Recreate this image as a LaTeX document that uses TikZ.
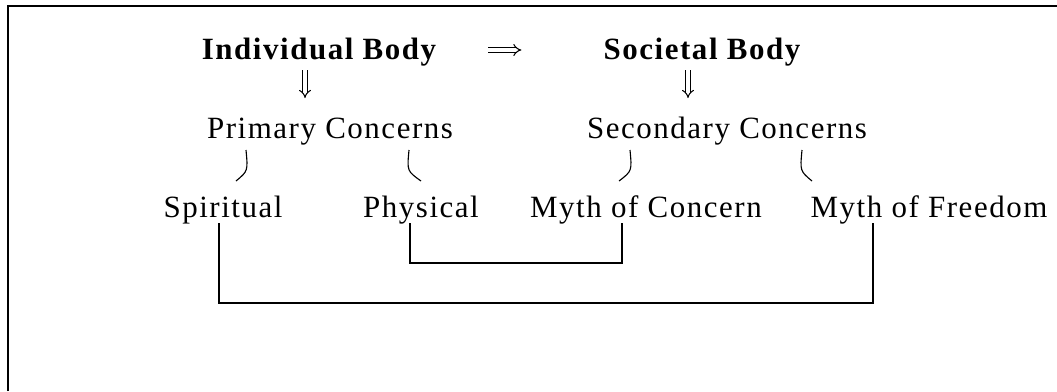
\documentclass[tikz,border=0pt]{standalone}
\usepackage{fontspec}
\setmainfont{Liberation Serif}[LetterSpace=5]
\usetikzlibrary{calc,arrows.meta}
\tikzset{
  label text/.style={anchor=base, inner sep=0pt, font=\fontsize{22}{26}\selectfont},
  head text/.style={label text, font=\fontsize{22}{26}\selectfont\bfseries},
  link/.style={line width=1pt},
  brace/.style={line width=0.8pt},
  down/.style={double, double distance=2.2pt, line width=0.75pt, -{Implies}},
}
\begin{document}
\begin{tikzpicture}[x={(0.025cm,0cm)}, y={(0cm,-0.025cm)}]
  \useasboundingbox (0,0) rectangle (1057,391);
  % frame
  \draw[line width=1.4pt] (8,391) -- (8,6) -- (1057,6);

  % top row
  \node[head text] (ib) at (319,59) {Individual Body};
  \node[head text] (sb) at (702,59) {Societal Body};
  \draw[down] ($(ib.base east)+(52,-9)$) -- ($(sb.base west)+(-82,-9)$);
  \draw[down] (305,70) -- (305,98);
  \draw[down] (688,70) -- (688,98);

  % concerns
  \node[label text] (pc) at (330,138) {Primary Concerns};
  \node[label text] (sc) at (727,138) {Secondary Concerns};
  \draw[brace] (246,150) .. controls (248,171) .. (236,181);
  \draw[brace] (409,150) .. controls (407,171) .. (421,181);
  \draw[brace] (630,150) .. controls (632,171) .. (619,181);
  \draw[brace] (802,150) .. controls (800,171) .. (812,181);

  % bottom row
  \node[label text] (sp) at (223,217) {Spiritual};
  \node[label text] (ph) at (421,217) {Physical};
  \node[label text] (mc) at (646,217) {Myth of Concern};
  \node[label text] (mf) at (929,217) {Myth of Freedom};

  % links
  \draw[link] ($(ph.base)+(-11,6)$) |- ($(mc.base)+(-24,46)$) -- ($(mc.base)+(-24,6)$);
  \draw[link] ($(sp.base)+(-4,6)$) |- ($(mf.base)+(-56,86)$) -- ($(mf.base)+(-56,6)$);
\end{tikzpicture}
\end{document}
